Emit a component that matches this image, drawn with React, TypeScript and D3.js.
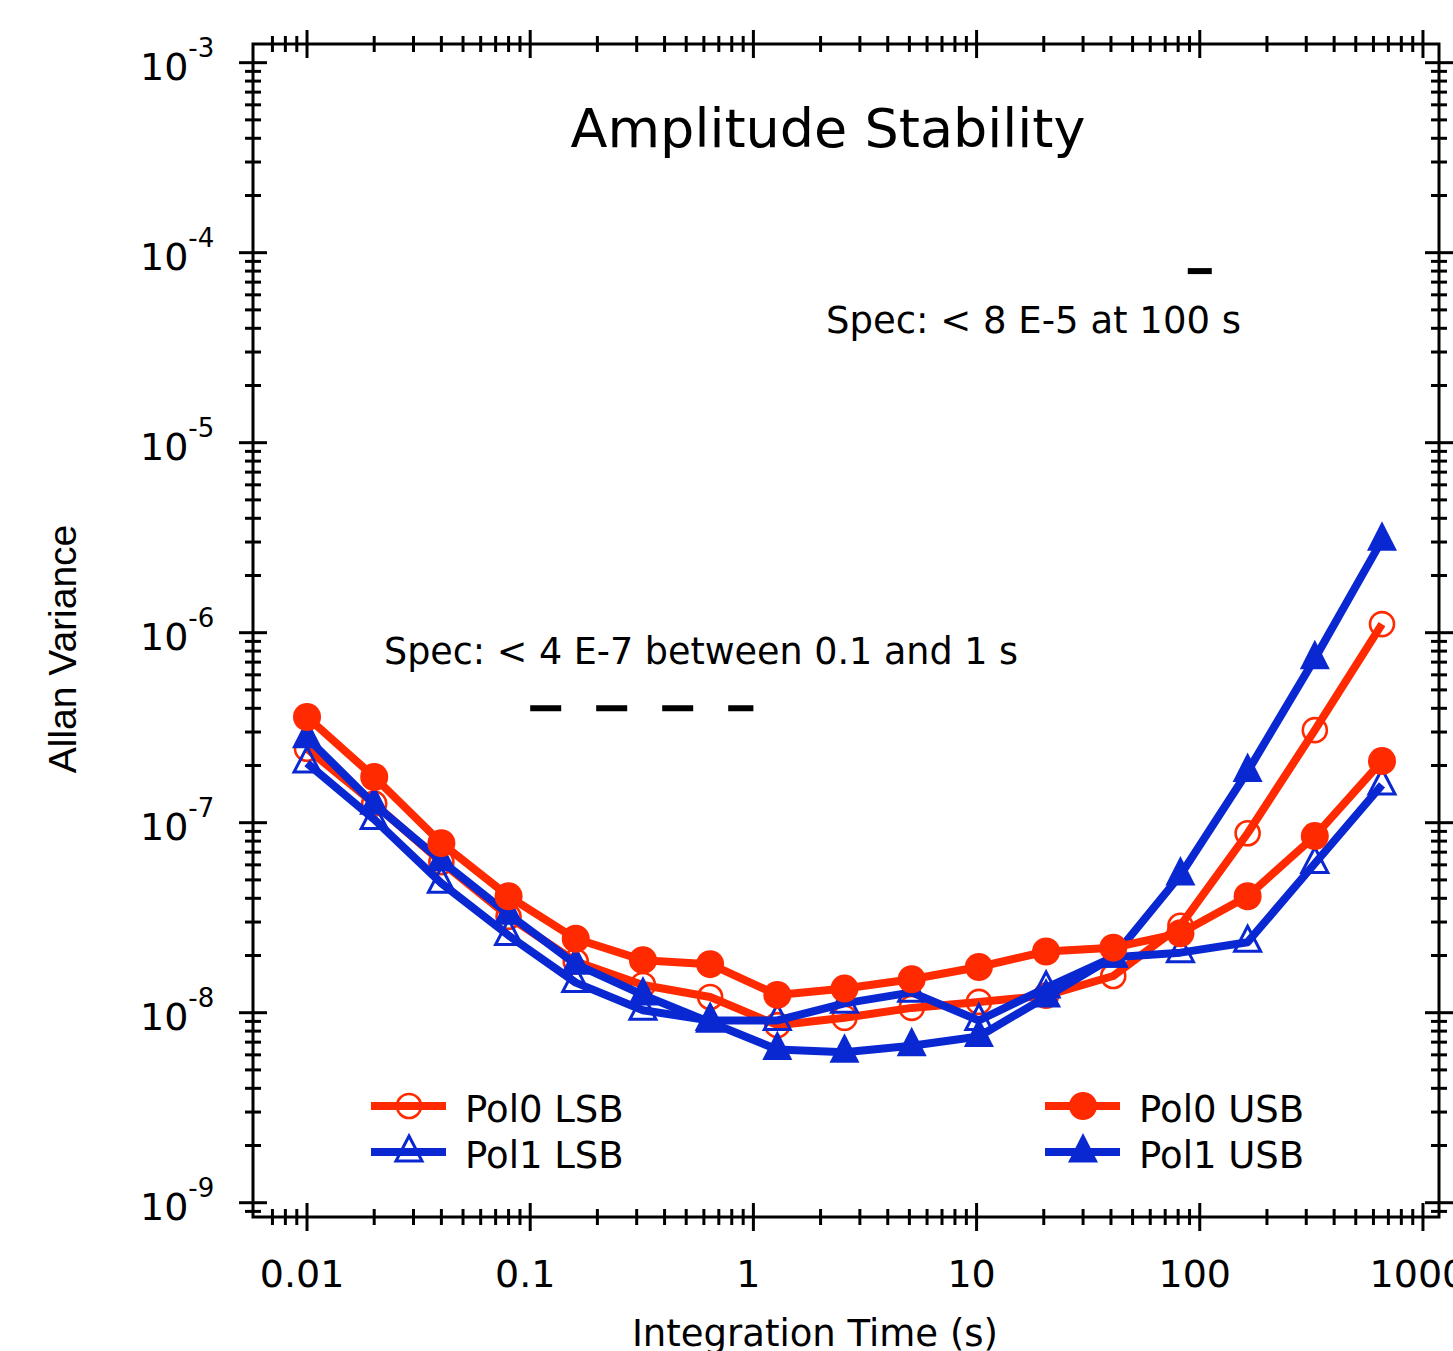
import React from 'react';
import * as d3 from 'd3';

// integration times (s)
const tau = [0.01, 0.02, 0.04, 0.08, 0.16, 0.32, 0.64, 1.28, 2.56, 5.12, 10.24, 20.48, 40.96, 81.92, 163.84, 327.68, 655.36];

const pol0LSB = [2.45e-7, 1.26e-7, 6.2e-8, 3.2e-8, 1.86e-8, 1.4e-8, 1.21e-8, 8.6e-9, 9.4e-9, 1.06e-8, 1.14e-8, 1.23e-8, 1.56e-8, 2.87e-8, 8.8e-8, 3.07e-7, 1.11e-6];
const pol0USB = [3.6e-7, 1.74e-7, 7.8e-8, 4.1e-8, 2.45e-8, 1.89e-8, 1.8e-8, 1.24e-8, 1.34e-8, 1.5e-8, 1.74e-8, 2.1e-8, 2.2e-8, 2.62e-8, 4.1e-8, 8.5e-8, 2.11e-7];
const pol1LSB = [2.06e-7, 1.04e-7, 4.8e-8, 2.55e-8, 1.44e-8, 1.03e-8, 9.1e-9, 9.1e-9, 1.12e-8, 1.28e-8, 9.1e-9, 1.35e-8, 1.96e-8, 2.07e-8, 2.35e-8, 6.1e-8, 1.58e-7];
const pol1USB = [2.8e-7, 1.25e-7, 6.3e-8, 3.3e-8, 1.8e-8, 1.24e-8, 8.9e-9, 6.4e-9, 6.2e-9, 6.7e-9, 7.5e-9, 1.21e-8, 1.96e-8, 5.3e-8, 1.86e-7, 7.3e-7, 3.07e-6];

const xMajor = [0.01, 0.1, 1, 10, 100, 1000];
const xLabels = ['0.01', '0.1', '1', '10', '100', '1000'];
const yExp = [-3, -4, -5, -6, -7, -8, -9];

const RED = '#ff2a00';
const BLUE = '#0a28d2';

const series = [
  { name: 'Pol0 LSB', values: pol0LSB, color: RED, shape: 'circle', filled: false },
  { name: 'Pol1 LSB', values: pol1LSB, color: BLUE, shape: 'triangle', filled: false },
  { name: 'Pol1 USB', values: pol1USB, color: BLUE, shape: 'triangle', filled: true },
  { name: 'Pol0 USB', values: pol0USB, color: RED, shape: 'circle', filled: true },
];

const FONT = '"DejaVu Sans", sans-serif';

const left = 253, right = 1439, top = 44, bottom = 1217;

const x = d3.scaleLog().domain([0.005728, 1180]).range([left, right]);
const y = d3.scaleLog().domain([1.254e-3, 8.41e-10]).range([top, bottom]);

function minorTicks(lo: number, hi: number) {
  const out: number[] = [];
  for (let e = Math.floor(Math.log10(lo)); e <= Math.ceil(Math.log10(hi)); e++) {
    for (let k = 2; k <= 9; k++) {
      const v = k * Math.pow(10, e);
      if (v > lo && v < hi) out.push(v);
    }
  }
  return out;
}

const tri = 'M0,-19L15,10.5L-15,10.5Z';

function Marker({ cx, cy, s }: any) {
  if (s.shape === 'circle') {
    return s.filled ? (
      <circle cx={cx} cy={cy} r={14} fill={s.color} />
    ) : (
      <circle cx={cx} cy={cy} r={12} fill="none" stroke={s.color} strokeWidth={2.6} />
    );
  }
  return s.filled ? (
    <path d={tri} transform={`translate(${cx},${cy})`} fill={s.color} />
  ) : (
    <path d="M0,-16L13,9L-13,9Z" transform={`translate(${cx},${cy})`} fill="none" stroke={s.color} strokeWidth={3} />
  );
}

export default function App() {
  const line = d3.line<number>().x((_, i) => x(tau[i])).y((d) => y(d));

  const xMinor = minorTicks(0.0065, 1180).filter((v) => x(v) - left > 10);
  const yMinor = minorTicks(8.41e-10, 1.254e-3);

  const legend = [
    { s: series[0], lx: 371, ly: 1106 },
    { s: series[1], lx: 371, ly: 1152 },
    { s: series[3], lx: 1045, ly: 1106 },
    { s: series[2], lx: 1045, ly: 1152 },
  ];

  return (
    <svg width={1453} height={1351} style={{ position: 'absolute', left: 0, top: 0, background: '#fff' }} fontFamily={FONT}>
      {/* frame */}
      <rect x={left} y={top} width={right - left} height={bottom - top} fill="none" stroke="#000" strokeWidth={3} />

      {/* x ticks top and bottom */}
      {xMajor.map((v) => (
        <g key={'xm' + v} stroke="#000" strokeWidth={3}>
          <line x1={x(v)} x2={x(v)} y1={bottom - 14} y2={bottom + 14} />
          <line x1={x(v)} x2={x(v)} y1={top - 14} y2={top + 14} />
        </g>
      ))}
      {xMinor.map((v) => (
        <g key={'xn' + v} stroke="#000" strokeWidth={3}>
          <line x1={x(v)} x2={x(v)} y1={bottom - 8} y2={bottom + 8} />
          <line x1={x(v)} x2={x(v)} y1={top - 8} y2={top + 8} />
        </g>
      ))}
      {/* y ticks left and right */}
      {yExp.map((e) => (
        <g key={'ym' + e} stroke="#000" strokeWidth={3}>
          <line x1={left - 14} x2={left + 14} y1={y(Math.pow(10, e))} y2={y(Math.pow(10, e))} />
          <line x1={right - 14} x2={right + 14} y1={y(Math.pow(10, e))} y2={y(Math.pow(10, e))} />
        </g>
      ))}
      {yMinor.map((v) => (
        <g key={'yn' + v} stroke="#000" strokeWidth={3}>
          <line x1={left - 8} x2={left + 8} y1={y(v)} y2={y(v)} />
          <line x1={right - 8} x2={right + 8} y1={y(v)} y2={y(v)} />
        </g>
      ))}

      {/* tick labels */}
      {xMajor.map((v, i) => (
        <text key={'xl' + v} x={x(v) - 5} y={1287} textAnchor="middle" fontSize={38}>
          {xLabels[i]}
        </text>
      ))}
      {yExp.map((e) => (
        <text key={'yl' + e} x={140} y={y(Math.pow(10, e)) + 17} fontSize={38}>
          10
          <tspan dy={-23} fontSize={26}>{String(e)}</tspan>
        </text>
      ))}

      {/* axis titles */}
      <text x={815} y={1346} textAnchor="middle" fontSize={37}>Integration Time (s)</text>
      <text transform="translate(76,649) rotate(-90)" textAnchor="middle" fontSize={39} fontFamily='"Liberation Sans", Arial, sans-serif'>
        Allan Variance
      </text>

      {/* title */}
      <text x={828} y={147} textAnchor="middle" fontSize={54}>Amplitude Stability</text>

      {/* specs */}
      <line x1={x(100) - 12} x2={x(100) + 12} y1={y(8e-5)} y2={y(8e-5)} stroke="#000" strokeWidth={6} />
      <text x={826} y={333} fontSize={37}>Spec: &lt; 8 E-5 at 100 s</text>
      <line x1={x(0.1)} x2={x(1)} y1={y(4e-7)} y2={y(4e-7)} stroke="#000" strokeWidth={6} strokeDasharray="31 35" />
      <text x={384} y={664} fontSize={36.5}>Spec: &lt; 4 E-7 between 0.1 and 1 s</text>

      {/* series */}
      {series.map((s) => (
        <g key={s.name}>
          <path d={line(s.values) || ''} fill="none" stroke={s.color} strokeWidth={8} strokeLinejoin="round" />
          {s.values.map((v, i) => (
            <Marker key={i} cx={x(tau[i])} cy={y(v)} s={s} />
          ))}
        </g>
      ))}

      {/* legend */}
      {legend.map(({ s, lx, ly }) => (
        <g key={'lg' + s.name}>
          <line x1={lx} x2={lx + 75} y1={ly} y2={ly} stroke={s.color} strokeWidth={8} />
          <Marker cx={lx + 38} cy={ly} s={s} />
          <text x={lx + 94} y={ly + 16} fontSize={37}>{s.name}</text>
        </g>
      ))}
    </svg>
  );
}
